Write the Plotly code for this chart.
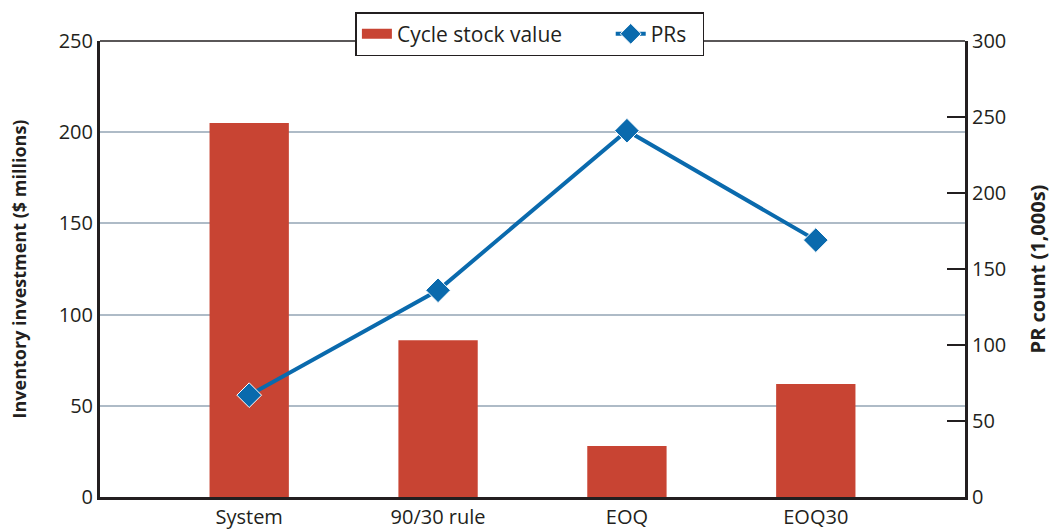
import plotly.graph_objects as go

# 数据
categories = ["System", "90/30 rule", "EOQ", "EOQ30"]
cycle_stock = [205, 86, 28, 62]      # $ millions (left axis)
pr_counts = [67, 136, 241, 169]      # 1,000s (right axis)

left_ticks = [0, 50, 100, 150, 200, 250]
right_ticks = [0, 50, 100, 150, 200, 250, 300]

ink = "#231f20"
red = "#c84433"
blue = "#0a6aad"
font = dict(family="Open Sans, Noto Sans, sans-serif", size=19, color=ink)
pad = "\u00a0" * 8  # extra room between the two legend entries

bars = go.Bar(
    x=categories, y=cycle_stock, name="Cycle stock value", showlegend=False,
    marker=dict(color=red, line=dict(width=0)), width=0.42,
)
# legend swatch for the bars: a thick short line looks like the wide red block
bar_key = go.Scatter(
    x=[None], y=[None], name="Cycle stock value" + pad, mode="lines",
    line=dict(color=red, width=19),
)
line = go.Scatter(
    x=categories, y=pr_counts, name="PRs\u00a0\u00a0", yaxis="y2",
    mode="lines+markers",
    line=dict(color=blue, width=4),
    marker=dict(symbol="diamond", size=19, color=blue,
                line=dict(color="white", width=1)),
)

fig = go.Figure(data=[bars, bar_key, line])
fig.update_layout(
    width=1055, height=532,
    margin=dict(l=100, r=90, t=41, b=35, autoexpand=False),
    paper_bgcolor="white", plot_bgcolor="white",
    font=font,
    showlegend=True,
    legend=dict(
        orientation="h", x=0.497, xanchor="center", y=1.015, yanchor="middle",
        bgcolor="white", bordercolor=ink, borderwidth=1.5,
        font=dict(size=21, color=ink),
        traceorder="normal",
    ),
    xaxis=dict(
        type="category", range=[-0.79, 3.79],
        showline=True, linecolor=ink, linewidth=3,
        ticks="", showgrid=False, tickfont=dict(size=20),
    ),
    yaxis=dict(
        range=[0, 250], tickvals=left_ticks,
        showline=True, linecolor=ink, linewidth=3,
        showgrid=True, gridcolor="#aebbc7", gridwidth=1.5,
        ticks="", zeroline=False, tickfont=dict(size=20),
        title=dict(text="<b>Inventory investment ($ millions)</b>",
                   font=dict(size=18), standoff=28),
    ),
    yaxis2=dict(
        overlaying="y", side="right", range=[0, 300], tickvals=right_ticks,
        showline=True, linecolor=ink, linewidth=3,
        showgrid=False, zeroline=False,
        ticks="inside", ticklen=18, tickcolor=ink, tickwidth=1.5,
        tickfont=dict(size=20),
        title=dict(text="<b>PR count (1,000s)</b>", font=dict(size=20),
                   standoff=26),
    ),
    shapes=[dict(type="line", xref="paper", yref="paper", x0=0, x1=1,
                 y0=1, y1=1, line=dict(color=ink, width=1.5), layer="below")],
)

# drop the page's default 8px body margin so the figure sits at the corner
fig.write_html("out.html", config={"displayModeBar": False},
               post_script="document.body.style.margin='0';")
